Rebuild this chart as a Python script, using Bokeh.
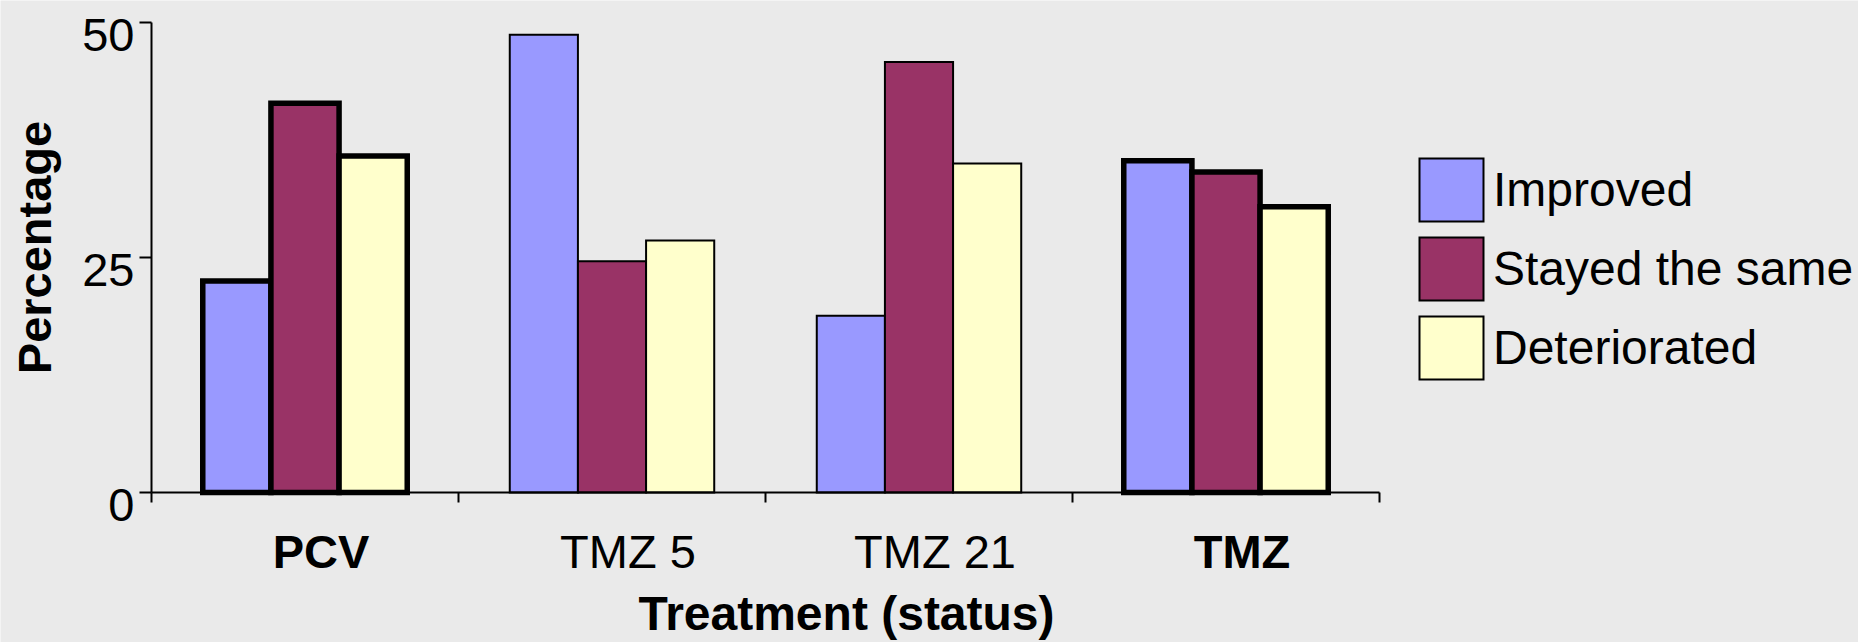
import math
from bokeh.plotting import figure
from bokeh.models import (Range1d, LinearAxis, FixedTicker, ColumnDataSource, LabelSet,
                          Label, Legend, LegendItem)
from bokeh.core.properties import value, field
from bokeh.embed import file_html
from bokeh.resources import INLINE

# Outcome by treatment, in percent of patients
treatments = ["PCV", "TMZ 5", "TMZ 21", "TMZ"]
improved = [22.5, 48.7, 18.8, 35.3]
stayed_same = [41.4, 24.6, 45.8, 34.1]
deteriorated = [35.8, 26.8, 35.0, 30.4]
series_names = ["Improved", "Stayed the same", "Deteriorated"]
y_ticks = [0, 25, 50]
y_max = 50

# treatments drawn with heavy outlines and bold labels
highlighted = {"PCV", "TMZ"}

FONT = "Liberation Sans"
SIZE = "47px"
BIG = "48px"
BG = "#eaeaea"
COLORS = ["#9999ff", "#993366", "#ffffcc"]
BAR_W = 0.222

# page geometry (pixels); the drawing frame covers the whole page,
# the value axes span [AX_L, AX_R] x [AX_T, AX_B]
W, H = 1858, 642
AX_L, AX_R, AX_T, AX_B = 151, 1379, 22, 492

n = len(treatments)
px_x = (AX_R - AX_L) / n
px_y = (AX_B - AX_T) / y_max
x_start, x_end = -AX_L / px_x, (W - AX_L) / px_x
y_start, y_end = -(H - AX_B) / px_y, y_max + AX_T / px_y

p = figure(width=W, height=H,
           x_range=Range1d(x_start, x_end), y_range=Range1d(y_start, y_end),
           x_axis_location=None, y_axis_location=None,
           output_backend="svg", toolbar_location=None,
           min_border_left=0, min_border_right=0,
           min_border_top=0, min_border_bottom=0,
           background_fill_color=BG, border_fill_color=BG,
           outline_line_color=None)
p.grid.visible = False


def bare_axis(ticks, bounds, tick_len):
    """Axis line with inward ticks and no tick labels, pinned at 0."""
    return LinearAxis(fixed_location=0, bounds=bounds, ticker=FixedTicker(ticks=ticks),
                      major_label_overrides={t: "" for t in ticks},
                      major_label_text_font_size="0px", major_label_standoff=0,
                      axis_line_width=2, major_tick_line_width=2,
                      major_tick_out=0, major_tick_in=tick_len,
                      minor_tick_out=0, minor_tick_in=0)


# x axis along y = 0 with ticks between the treatment groups
edges = list(range(n + 1))
p.add_layout(bare_axis(edges, (0, n), 10), "above")
# y axis along x = 0
p.add_layout(bare_axis(y_ticks, (0, y_max), 12), "right")

centers = [i + 0.5 for i in range(n)]
src = ColumnDataSource(dict(
    treatment=treatments,
    center=centers,
    improved=improved,
    stayed=stayed_same,
    deteriorated=deteriorated,
    lw=[5.5 if t in highlighted else 2 for t in treatments],
    style=["bold" if t in highlighted else "normal" for t in treatments],
))

items = []
for k, (key, name, color) in enumerate(zip(["improved", "stayed", "deteriorated"],
                                           series_names, COLORS)):
    src.data["x_" + key] = [c + (k - 1) * BAR_W for c in centers]
    r = p.vbar(x="x_" + key, top=key, width=BAR_W, source=src,
               fill_color=color, line_color="black",
               line_width="lw", line_join="miter")
    items.append(LegendItem(label=name, renderers=[r], index=1))

# y tick labels, left of the axis and slightly below each tick
tick_src = ColumnDataSource(dict(y=[t - 12 / px_y for t in y_ticks],
                                 text=[str(t) for t in y_ticks]))
p.add_layout(LabelSet(x=-17 / px_x, y="y", text="text", source=tick_src,
                      text_font=value(FONT), text_font_size=value(SIZE),
                      text_color="black", text_align="right", text_baseline="middle"))

# y axis title
p.add_layout(Label(x=(34 - AX_L) / px_x, y=(AX_B - 247) / px_y,
                   text="Percentage", angle=math.pi / 2,
                   text_font=FONT, text_font_size=SIZE, text_font_style="bold",
                   text_color="black", text_align="center", text_baseline="middle"))

# treatment names under the groups
p.add_layout(LabelSet(x="center", y=-75 / px_y, x_offset=16,
                      text="treatment", source=src,
                      text_font=value(FONT), text_font_size=value(SIZE),
                      text_font_style=field("style"), text_color="black",
                      text_align="center", text_baseline="alphabetic"))

# x axis title
p.add_layout(Label(x=(846 - AX_L) / px_x, y=-121 / px_y,
                   text="Treatment (status)", text_font=FONT, text_font_size=BIG,
                   text_font_style="bold", text_color="black",
                   text_align="center", text_baseline="alphabetic"))

legend = Legend(items=items, location=(1411, H - 150 - 237),
                glyph_width=80, glyph_height=79, spacing=0, padding=0, margin=0,
                label_standoff=2, label_text_font=FONT, label_text_font_size=BIG,
                label_text_color="black",
                border_line_color=None, background_fill_alpha=0)
p.add_layout(legend)

open("out.html", "w").write(file_html(p, INLINE))
